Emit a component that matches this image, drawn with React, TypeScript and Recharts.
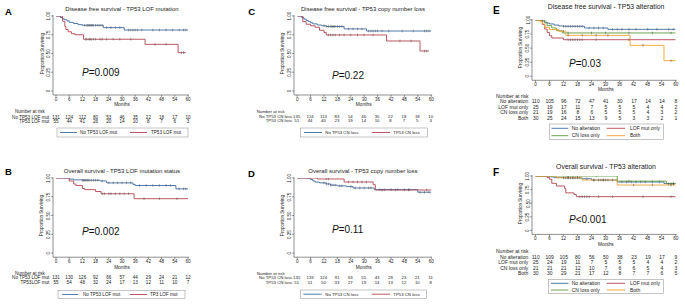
import React from 'react';
import { LineChart, Line, XAxis, YAxis } from 'recharts';

const months = [0, 6, 12, 18, 24, 30, 36, 42, 48, 54, 60];
const survTicks = [0, 0.25, 0.5, 0.75, 1];
const survTickLabels = ['0', '0.25', '0.50', '0.75', '1.00'];

// [month, survival] step points, censor times
const dfsNoLof = [[0, 1], [2, 0.98], [3, 0.96], [4, 0.95], [5, 0.935], [6, 0.915], [8, 0.9], [10, 0.885], [12, 0.876], [21.5, 0.845], [31, 0.813], [60, 0.813]];
const dfsNoLofCens = [13, 14, 14.5, 15, 15.5, 16, 16.5, 17, 18, 19, 20, 21, 23, 25, 27, 29, 33, 34, 35, 36, 37, 39, 44, 47, 50, 53, 56, 58, 59];
const dfsLof = [[0, 1], [3, 0.93], [4, 0.86], [4.5, 0.82], [5.5, 0.79], [7, 0.765], [8.5, 0.75], [12.5, 0.69], [40.5, 0.622], [55.5, 0.511], [59, 0.511]];
const dfsLofCens = [13.5, 14, 15, 15.5, 16, 17, 18, 20, 21, 23, 26, 29, 34, 45, 50, 57, 58];

const osNoLof = [[0, 1], [6, 0.985], [8, 0.975], [12, 0.97], [20, 0.96], [23, 0.935], [35, 0.915], [36, 0.9], [54.5, 0.855], [60, 0.855]];
const osNoLofCens = [12, 12.5, 13, 13.5, 14, 14.5, 15, 16, 17, 18, 19, 21, 24, 26, 28, 30, 32, 34, 38, 41, 44, 47, 50, 52, 56, 58, 59];
const osLof = [[0, 1], [6, 0.96], [8, 0.92], [9, 0.9], [12, 0.86], [13, 0.845], [18, 0.82], [20.5, 0.79], [35.5, 0.724], [60, 0.724]];
const osLofCens = [21, 22, 24, 25, 27, 29, 31, 33, 40, 47, 55];

const dfsNoCn = [[0, 1], [2, 0.98], [3, 0.96], [4, 0.94], [5, 0.925], [6, 0.91], [7, 0.895], [9, 0.88], [11, 0.87], [13, 0.86], [21, 0.828], [31, 0.8], [60, 0.8]];
const dfsNoCnCens = [12, 13, 14, 15, 15.5, 16, 16.5, 17, 18, 19, 20, 23, 25, 27, 29, 32, 33, 34, 35, 36, 38, 41, 47, 52, 57, 58, 59];
const dfsCn = [[0, 1], [2.5, 0.925], [4, 0.89], [6, 0.87], [8, 0.85], [10, 0.81], [12, 0.78], [13, 0.747], [40, 0.667], [55, 0.533], [59, 0.533]];
const dfsCnCens = [14, 15, 16, 17, 19, 21, 24, 27, 30, 34, 46, 51, 57, 58];

const osNoCn = [[0, 1], [6, 0.98], [7, 0.96], [8, 0.945], [10, 0.935], [13, 0.92], [15, 0.905], [18, 0.895], [22, 0.885], [25, 0.867], [34.5, 0.845], [54, 0.81], [60, 0.81]];
const osNoCnCens = [12, 13, 14, 15, 16, 17, 19, 20, 24, 26, 28, 30, 32, 33, 37, 39, 42, 45, 48, 50, 55, 57, 59];
const osCn = [[0, 1], [9, 0.987], [21, 0.947], [34, 0.91], [35, 0.84], [60, 0.84]];
const osCnCens = [13, 14, 23, 25, 27, 29, 31, 38, 44, 50, 58];

const dfsNone = [[0, 1], [3, 0.98], [4, 0.96], [5, 0.945], [6, 0.93], [8, 0.91], [10, 0.895], [12, 0.888], [21, 0.858], [31, 0.834], [60, 0.834]];
const dfsNoneCens = [12, 13, 14, 15, 16, 17, 18, 19, 20, 23, 25, 27, 29, 33, 35, 37, 40, 43, 48, 52, 57, 59];
const dfsLofOnly = [[0, 1], [3, 0.92], [4, 0.84], [5, 0.78], [6, 0.72], [7, 0.68], [12, 0.65], [60, 0.65]];
const dfsLofOnlyCens = [14, 15, 16, 17, 18, 19, 20, 26, 40];
const dfsCnOnly = [[0, 1], [4, 0.95], [5, 0.9], [7, 0.858], [9, 0.81], [11.5, 0.77], [60, 0.77]];
const dfsCnOnlyCens = [14, 24, 30, 40, 50, 58];
const dfsBoth = [[0, 1], [2, 0.967], [3, 0.93], [4, 0.87], [6, 0.83], [10, 0.8], [13, 0.727], [40.5, 0.55], [55, 0.278], [60, 0.278]];
const dfsBothCens = [12, 14, 20, 26, 31, 46, 58];

const osNone = [[0, 1], [6, 0.985], [8, 0.97], [12, 0.965], [20, 0.95], [24, 0.926], [35, 0.89], [55, 0.86], [60, 0.86]];
const osNoneCens = [12, 13, 14, 15, 16, 17, 18, 19, 22, 25, 27, 28, 29, 30, 31, 33, 37, 39, 41, 43, 45, 47, 50, 53, 57, 58, 59];
const osLofOnly = [[0, 1], [5, 0.97], [6, 0.94], [7, 0.865], [9, 0.816], [12.5, 0.77], [13, 0.69], [16.5, 0.66], [17.5, 0.62], [60, 0.62]];
const osLofOnlyCens = [19, 20, 21, 22, 23, 27, 33, 46, 58];
const osCnOnly = [[0, 1], [35, 0.905], [56, 0.857], [60, 0.857]];
const osCnOnlyCens = [14, 18, 26, 40, 59];
const osBoth = [[0, 1], [9, 0.967], [20, 0.926], [35, 0.834], [60, 0.834]];
const osBothCens = [14, 16, 25, 29, 42, 50, 58];

// numbers at risk
const narA1 = [131, 124, 112, 80, 53, 46, 35, 22, 18, 17, 10];
const narA2 = [55, 44, 41, 26, 20, 14, 10, 8, 7, 6, 3];
const narB1 = [131, 130, 126, 92, 66, 57, 44, 29, 24, 21, 12];
const narB2 = [55, 54, 48, 32, 24, 17, 13, 12, 11, 10, 7];
const narC1 = [135, 124, 113, 83, 54, 46, 35, 22, 18, 18, 10];
const narC2 = [51, 44, 40, 23, 19, 14, 10, 8, 7, 5, 3];
const narD1 = [135, 133, 124, 91, 63, 55, 43, 28, 23, 21, 11];
const narD2 = [51, 51, 50, 33, 27, 19, 14, 13, 12, 10, 8];
const narE1 = [110, 105, 96, 72, 47, 41, 30, 17, 14, 14, 8];
const narE2 = [25, 19, 17, 11, 7, 5, 5, 5, 4, 4, 2];
const narE3 = [21, 19, 16, 8, 6, 5, 5, 5, 4, 3, 2];
const narE4 = [30, 25, 24, 15, 13, 9, 5, 3, 3, 2, 1];
const narF1 = [110, 109, 105, 80, 56, 50, 38, 23, 19, 17, 9];
const narF2 = [25, 24, 19, 11, 7, 5, 5, 5, 4, 4, 2];
const narF3 = [21, 21, 21, 12, 10, 7, 6, 6, 5, 4, 3];
const narF4 = [30, 30, 29, 21, 17, 12, 8, 7, 7, 6, 5];

const BLUE = '#3d6ca3';
const RED = '#b24651';
const GREEN = '#5f9a3c';
const ORANGE = '#f0a030';
const FONT = '"Liberation Sans", Arial, sans-serif';
const INK = '#222';

type Geo = { px0: number; px60: number; py1: number; py0: number; axisX: number; axisY: number };
type Series = { name: string; legend?: string; steps: number[][]; cens: number[]; color: string; nar: number[] };

function kmRows(steps: number[][], cens: number[]) {
  const rows = steps.map(([t, s]) => ({ t, s, c: 0 }));
  cens.forEach((t) => {
    let s = 1;
    for (const [st, sv] of steps) if (st <= t) s = sv;
    rows.push({ t, s, c: 1 });
  });
  rows.sort((a, b) => a.t - b.t || a.c - b.c);
  return rows;
}

const censorDot = (p: any) => {
  const { cx, cy, payload, index } = p;
  if (!payload || !payload.c) return <g key={index} />;
  return <line key={index} x1={cx} x2={cx} y1={cy - 1.3} y2={cy + 1.3} stroke="#333" strokeWidth={0.45} />;
};

const XTick = (p: any) => (
  <text x={p.x} y={p.y} dy="0.71em" textAnchor="middle" fontSize={4.6} fill={INK} fontFamily={FONT}>
    {p.payload.value}
  </text>
);

// y labels are set in the overlay (rotated), the axis keeps the tick marks
const YTick = () => <g />;

function KmPlot({ geo, series }: { geo: Geo; series: Series[] }) {
  const YW = 10;
  const XH = 9;
  const MT = 6;
  const MR = 5;
  const plotLeft = geo.axisX;
  const plotRight = geo.px60 + 1;
  const plotTop = geo.py1 - 1;
  const width = plotRight - plotLeft + YW + MR;
  const height = geo.axisY - plotTop + XH + MT;
  return (
    <div style={{ position: 'absolute', left: plotLeft - YW, top: plotTop - MT }}>
      <LineChart width={width} height={height} margin={{ top: MT, right: MR, bottom: 0, left: 0 }}>
        <XAxis
          dataKey="t"
          type="number"
          domain={[0, 60]}
          ticks={months}
          interval={0}
          allowDataOverflow
          padding={{ left: geo.px0 - geo.axisX, right: 1 }}
          height={XH}
          tickSize={1.8}
          tickMargin={1}
          stroke="#444"
          strokeWidth={0.6}
          tick={XTick}
        />
        <YAxis
          type="number"
          domain={[0, 1]}
          ticks={survTicks}
          interval={0}
          allowDataOverflow
          width={YW}
          padding={{ top: 1, bottom: geo.axisY - geo.py0 }}
          tickSize={1.8}
          tickMargin={1}
          stroke="#444"
          strokeWidth={0.6}
          tick={YTick}
        />
        {series.map((s) => (
          <Line
            key={s.name}
            data={kmRows(s.steps, s.cens)}
            dataKey="s"
            type="stepAfter"
            stroke={s.color}
            strokeWidth={0.9}
            dot={censorDot}
            activeDot={false}
            isAnimationActive={false}
          />
        ))}
      </LineChart>
    </div>
  );
}

type LegendItem = { x1: number; x2: number; y: number; tx: number };
type Panel = {
  letter: string; lx: number; ly: number; lsize: number;
  title: string; tx: number; ty: number; tsize: number;
  pText: string; pX: number; pY: number;
  propX: number; propY: number; monthsY: number;
  geo: Geo; series: Series[];
  narHeadX: number; narHeadY: number; narLabelR: number; narRows: number[]; narSize: number;
  box: number[]; items: LegendItem[];
};

const panels: Panel[] = [
  {
    letter: 'A', lx: 5, ly: 15, lsize: 9.5,
    title: 'Disease free survival - TP53 LOF mutation', tx: 122, ty: 11, tsize: 6,
    pText: '=0.009', pX: 82, pY: 76, propX: 43.5, propY: 53.5, monthsY: 105.8,
    geo: { px0: 56, px60: 188, py1: 16, py0: 91, axisX: 53, axisY: 95 },
    series: [
      { name: 'No TP53 LOF mut', steps: dfsNoLof, cens: dfsNoLofCens, color: BLUE, nar: narA1 },
      { name: 'TP53 LOF mut', steps: dfsLof, cens: dfsLofCens, color: RED, nar: narA2 },
    ],
    narHeadX: 15, narHeadY: 112.6, narLabelR: 49.3, narRows: [119.3, 123.1], narSize: 4.6,
    box: [57, 128, 131, 9],
    items: [{ x1: 60, x2: 77, y: 132.5, tx: 80 }, { x1: 130, x2: 147, y: 132.5, tx: 151 }],
  },
  {
    letter: 'B', lx: 5, ly: 175, lsize: 9.5,
    title: 'Overall survival - TP53 LOF mutation status', tx: 122, ty: 173, tsize: 6,
    pText: '=0.002', pX: 82, pY: 235, propX: 42.5, propY: 215.5, monthsY: 269,
    geo: { px0: 56, px60: 188, py1: 178.3, py0: 253.3, axisX: 53, axisY: 257.5 },
    series: [
      { name: 'No TP53 LOF mut', steps: osNoLof, cens: osNoLofCens, color: BLUE, nar: narB1 },
      { name: 'TP53LOF mut', legend: 'TP3 LOF mut', steps: osLof, cens: osLofCens, color: RED, nar: narB2 },
    ],
    narHeadX: 15, narHeadY: 275, narLabelR: 49.3, narRows: [279.4, 284], narSize: 4.6,
    box: [58, 290.7, 127, 7.6],
    items: [{ x1: 62, x2: 78, y: 294.5, tx: 83 }, { x1: 130, x2: 147, y: 294.5, tx: 150 }],
  },
  {
    letter: 'C', lx: 248.3, ly: 15, lsize: 9.5,
    title: 'Disease free survival - TP53 copy number loss', tx: 363, ty: 11, tsize: 6,
    pText: '=0.22', pX: 332, pY: 79, propX: 283.5, propY: 53.5, monthsY: 105.8,
    geo: { px0: 296.7, px60: 430.7, py1: 16, py0: 91, axisX: 293.5, axisY: 95 },
    series: [
      { name: 'No TP53 CN loss', steps: dfsNoCn, cens: dfsNoCnCens, color: BLUE, nar: narC1 },
      { name: 'TP53 CN loss', steps: dfsCn, cens: dfsCnCens, color: RED, nar: narC2 },
    ],
    narHeadX: 256.7, narHeadY: 112.6, narLabelR: 292.2, narRows: [118.3, 122.3], narSize: 4.3,
    box: [300.7, 128, 127, 9],
    items: [{ x1: 304, x2: 322, y: 132.5, tx: 325.3 }, { x1: 371.7, x2: 390, y: 132.5, tx: 393.3 }],
  },
  {
    letter: 'D', lx: 248, ly: 177.3, lsize: 9.5,
    title: 'Overall survival - TP53 copy number loss', tx: 363, ty: 173, tsize: 6,
    pText: '=0.11', pX: 332, pY: 233, propX: 283.5, propY: 215.5, monthsY: 269,
    geo: { px0: 296.7, px60: 430.7, py1: 178.3, py0: 253.3, axisX: 293.5, axisY: 257.5 },
    series: [
      { name: 'No TP53 CN loss', steps: osNoCn, cens: osNoCnCens, color: BLUE, nar: narD1 },
      { name: 'TP53 CN loss', steps: osCn, cens: osCnCens, color: RED, nar: narD2 },
    ],
    narHeadX: 256.7, narHeadY: 275, narLabelR: 292.2, narRows: [279.4, 284], narSize: 4.3,
    box: [300.7, 290, 126, 8.3],
    items: [{ x1: 303.3, x2: 321.7, y: 294.2, tx: 325.3 }, { x1: 371.7, x2: 390, y: 294.2, tx: 393.3 }],
  },
  {
    letter: 'E', lx: 493, ly: 14, lsize: 10,
    title: 'Disease free survival - TP53 alteration', tx: 606, ty: 9.2, tsize: 6.9,
    pText: '=0.03', pX: 569, pY: 67, propX: 521.7, propY: 47.5, monthsY: 91,
    geo: { px0: 535.7, px60: 676, py1: 20, py0: 76.3, axisX: 532.3, axisY: 80.3 },
    series: [
      { name: 'No alteration', steps: dfsNone, cens: dfsNoneCens, color: BLUE, nar: narE1 },
      { name: 'LOF mut only', steps: dfsLofOnly, cens: dfsLofOnlyCens, color: RED, nar: narE2 },
      { name: 'CN loss only', steps: dfsCnOnly, cens: dfsCnOnlyCens, color: GREEN, nar: narE3 },
      { name: 'Both', steps: dfsBoth, cens: dfsBothCens, color: ORANGE, nar: narE4 },
    ],
    narHeadX: 496, narHeadY: 98.4, narLabelR: 528.3, narRows: [103.4, 108.7, 114.4, 119.7], narSize: 5,
    box: [549.3, 124, 114, 15.3],
    items: [
      { x1: 551.5, x2: 568.3, y: 128.3, tx: 571.7 },
      { x1: 606.7, x2: 625, y: 128.3, tx: 630 },
      { x1: 551.5, x2: 568.3, y: 135.7, tx: 571.7 },
      { x1: 606.7, x2: 625, y: 135.7, tx: 630 },
    ],
  },
  {
    letter: 'F', lx: 493, ly: 176, lsize: 10,
    title: 'Overall survival - TP53 alteration', tx: 606, ty: 169, tsize: 6.9,
    pText: '<0.001', pX: 569, pY: 223, propX: 521.7, propY: 203.5, monthsY: 246,
    geo: { px0: 535.7, px60: 676, py1: 176.3, py0: 230.7, axisX: 532.3, axisY: 234.7 },
    series: [
      { name: 'No alteration', steps: osNone, cens: osNoneCens, color: BLUE, nar: narF1 },
      { name: 'LOF mut only', steps: osLofOnly, cens: osLofOnlyCens, color: RED, nar: narF2 },
      { name: 'CN loss only', steps: osCnOnly, cens: osCnOnlyCens, color: GREEN, nar: narF3 },
      { name: 'Both', steps: osBoth, cens: osBothCens, color: ORANGE, nar: narF4 },
    ],
    narHeadX: 496, narHeadY: 253.4, narLabelR: 528.3, narRows: [259, 264.4, 269.7, 275], narSize: 5,
    box: [548.3, 279.3, 115, 14],
    items: [
      { x1: 551, x2: 568.3, y: 283.3, tx: 571.7 },
      { x1: 606.7, x2: 625, y: 283.3, tx: 630 },
      { x1: 551, x2: 568.3, y: 290, tx: 571.7 },
      { x1: 606.7, x2: 625, y: 290, tx: 630 },
    ],
  },
];

function PanelText({ p }: { p: Panel }) {
  const { geo } = p;
  const colX = (m: number) => geo.px0 + (m / 60) * (geo.px60 - geo.px0);
  const rowY = (v: number) => geo.py0 - v * (geo.py0 - geo.py1);
  const midX = (geo.px0 + geo.px60) / 2;
  const tickX = geo.axisX - 2.8;
  return (
    <g fontFamily={FONT} fill={INK}>
      <text x={p.lx} y={p.ly} fontSize={p.lsize} fontWeight="bold" fill="#000">{p.letter}</text>
      <text x={p.tx} y={p.ty} fontSize={p.tsize} textAnchor="middle">{p.title}</text>
      <text x={p.pX} y={p.pY} fontSize={10} fill="#111">
        <tspan fontStyle="italic">P</tspan>{p.pText}
      </text>
      {survTicks.map((v, i) => (
        <text key={v} x={tickX} y={rowY(v)} fontSize={4.5} textAnchor="middle" transform={`rotate(-90 ${tickX} ${rowY(v)})`}>
          {survTickLabels[i]}
        </text>
      ))}
      <text x={p.propX} y={p.propY} fontSize={4.6} textAnchor="middle" transform={`rotate(-90 ${p.propX} ${p.propY})`}>
        Proportion Surviving
      </text>
      <text x={midX} y={p.monthsY} fontSize={4.8} textAnchor="middle">Months</text>
      <text x={p.narHeadX} y={p.narHeadY} fontSize={p.narSize}>Number at risk</text>
      {p.series.map((s, i) => (
        <g key={s.name} fontSize={p.narSize}>
          <text x={p.narLabelR} y={p.narRows[i]} textAnchor="end">{s.name}</text>
          {s.nar.map((n, j) => (
            <text key={j} x={colX(months[j])} y={p.narRows[i]} textAnchor="middle">{n}</text>
          ))}
        </g>
      ))}
      <rect x={p.box[0]} y={p.box[1]} width={p.box[2]} height={p.box[3]} fill="#fff" stroke="#8a8a8a" strokeWidth={0.5} />
      {p.series.map((s, i) => {
        const it = p.items[i];
        return (
          <g key={s.name + 'lg'}>
            <line x1={it.x1} x2={it.x2} y1={it.y} y2={it.y} stroke={s.color} strokeWidth={0.9} />
            <text x={it.tx} y={it.y + 1.7} fontSize={p.narSize}>{s.legend || s.name}</text>
          </g>
        );
      })}
    </g>
  );
}

export default function App() {
  return (
    <div style={{ position: 'absolute', left: 0, top: 0, width: 685, height: 306, background: '#fff', overflow: 'hidden' }}>
      {panels.map((p) => (
        <KmPlot key={p.letter} geo={p.geo} series={p.series} />
      ))}
      <svg width={685} height={306} style={{ position: 'absolute', left: 0, top: 0, pointerEvents: 'none' }}>
        {panels.map((p) => (
          <PanelText key={p.letter} p={p} />
        ))}
      </svg>
    </div>
  );
}
